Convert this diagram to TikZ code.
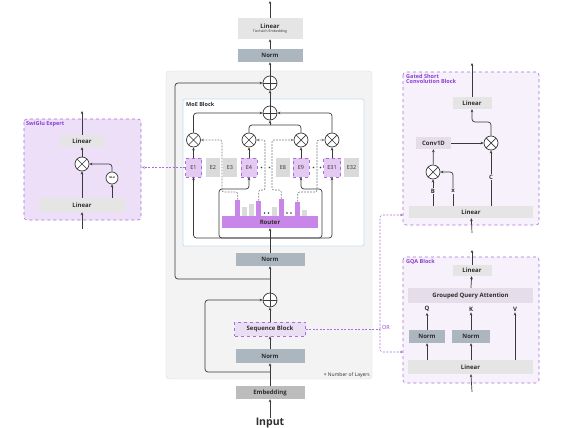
\documentclass[tikz,border=0pt]{standalone}
\usepackage{fontspec}
\setmainfont{Open Sans}
\usetikzlibrary{arrows.meta,positioning,calc}
\definecolor{lnc}{HTML}{3A3A3A}
\definecolor{txt}{HTML}{2E2E2E}
\definecolor{boxgray}{HTML}{E5E5E5}
\definecolor{normgray}{HTML}{ABB6BF}
\definecolor{embgray}{HTML}{BCBCBC}
\definecolor{panelfill}{HTML}{F3F3F3}
\definecolor{panelline}{HTML}{DADADA}
\definecolor{moeline}{HTML}{C5DDF2}
\definecolor{pline}{HTML}{A66FDB}
\definecolor{ptext}{HTML}{8A3FD1}
\definecolor{swfill}{HTML}{ECDFF7}
\definecolor{blkfill}{HTML}{F6F1FB}
\definecolor{convc}{HTML}{E5DDEA}
\definecolor{seqfill}{HTML}{E9DEF4}
\definecolor{expfill}{HTML}{E4C9F3}
\definecolor{expgray}{HTML}{DADADA}
\definecolor{routerc}{HTML}{C887E8}
\definecolor{routegray}{HTML}{7A7A7A}
\newcommand{\fsz}[1]{\fontsize{#1}{#1}\selectfont}

\begin{document}
\begin{tikzpicture}[x=1pt,y=-1pt,
  box/.style={rectangle,inner sep=0pt,font=\fsz{6}\bfseries,text=txt},
  lin/.style={box,fill=boxgray},
  nrm/.style={box,fill=normgray},
  wide/.style={minimum width=69pt,minimum height=13pt},
  expp/.style={box,font=\fsz{5.5},fill=expfill,draw=pline,dashed,minimum width=16pt,minimum height=19pt},
  expg/.style={box,font=\fsz{5.5},fill=expgray,minimum width=14pt,minimum height=19pt},
  bar/.style={rectangle,inner sep=0pt,minimum width=5pt},
  op/.style={circle,draw=lnc,line width=0.7pt,fill=white,minimum size=14pt,inner sep=0pt},
  add/.style={op,path picture={\draw[lnc,line width=0.7pt] (path picture bounding box.north) -- (path picture bounding box.south) (path picture bounding box.west) -- (path picture bounding box.east);}},
  mul/.style={op,path picture={\draw[lnc,line width=0.7pt] (path picture bounding box.south west) -- (path picture bounding box.north east) (path picture bounding box.north west) -- (path picture bounding box.south east);}},
  tag/.style={inner sep=1pt,font=\fsz{6}\bfseries,text=txt},
  plbl/.style={inner sep=0pt,font=\fsz{5.5}\bfseries,text=ptext},
  pbox/.style={draw=pline,dashed,line width=0.6pt,rounded corners=3pt},
  ln/.style={line width=0.7pt,draw=lnc},
  arr/.style={-{Stealth[length=3pt,width=2.6pt]},line width=0.7pt,draw=lnc},
  route/.style={-{Stealth[length=3pt,width=2.6pt]},line width=0.6pt,draw=routegray,dash pattern=on 1.8pt off 1.2pt,rounded corners=2pt},
  pdash/.style={line width=0.6pt,draw=pline,dash pattern=on 2pt off 1.5pt},
  pdasharr/.style={pdash,-{Stealth[length=3pt,width=2.6pt]},rounded corners=3pt}
]
\useasboundingbox (0,0) rectangle (570,428);

\draw[draw=panelline,fill=panelfill,rounded corners=3pt] (166,71) rectangle (372,379);
\draw[draw=moeline,fill=white,line width=0.7pt,rounded corners=2pt] (183,99) rectangle (364,246);
\node[inner sep=0pt,anchor=west,font=\fsz{5.5}\bfseries,text=txt] (moelbl) at (186,104) {MoE Block};
\draw[pbox,fill=swfill] (24,119) rectangle (141,220);
\node[plbl,anchor=west] (swlbl) at (26,124) {SwiGlu Expert};
\draw[pbox,fill=blkfill] (403,72) rectangle (539,225);
\node[plbl,anchor=north west,align=left] (gsclbl) at (406,74) {Gated Short\\Convolution Block};
\draw[pbox,fill=blkfill] (403,257) rectangle (539,383);
\node[plbl,anchor=west] (gqalbl) at (406,262) {GQA Block};

\node[lin,minimum width=65pt,minimum height=21pt,align=center] (head) at (270,28.5) {Linear\\[-1.5pt]{\fsz{3.5}\mdseries Tied with Embedding}};
\node[nrm,minimum width=65pt,minimum height=13pt] (normf) at (270,55.5) {Norm};
\node[add] (add2) at (270,83) {};
\node[add] (addm) at (270,113) {};
\foreach \n/\x in {1/193.5,2/249,3/301,4/332}
  \node[mul] (mul\n) at (\x,140) {};

\node[expp] (e1) at (193.5,167.5) {E1};
\node[expg] (e2) at (213,167.5) {E2};
\node[expg] (e3) at (230,167.5) {E3};
\node[expp] (e4) at (249,167.5) {E4};
\node[expg] (e8) at (283,167.5) {E8};
\node[expp] (e9) at (301,167.5) {E9};
\node[expp,minimum width=17pt] (e31) at (332,167.5) {E31};
\node[expg,minimum width=15pt] (e32) at (351.5,167.5) {E32};
\foreach \x in {261.5,269.5,313.5,320.5}
  \fill[lnc] (\x,167.5) circle (0.9pt);

\node[box,fill=routerc,minimum width=96pt,minimum height=12pt] (router) at (270,222) {Router};
\foreach \i/\a/\t/\c in {1/235/200/routerc,2/242/207/expgray,3/248.5/204/expgray,4/256/201/routerc,5/272/207/expgray,6/278.5/199/routerc,7/295/202/routerc,8/302/210/expgray}
  \node[bar,fill=\c,minimum height={(216-\t)*1pt},anchor=south west] (b\i) at (\a,216) {};
\foreach \x in {264.5,268.5,287,291}
  \fill[lnc] (\x,213) circle (0.9pt);

\node[nrm,wide] (norm2) at (270,259.5) {Norm};
\node[add] (addsb) at (270,300) {};
\node[box,fill=seqfill,draw=pline,dashed,line width=0.6pt,minimum width=71pt,minimum height=14pt] (seq) at (270,329) {Sequence Block};
\node[nrm,wide,minimum height=14pt] (norm1) at (270,356) {Norm};
\node[box,fill=embgray,wide] (embed) at (270,392.5) {Embedding};
\node[inner sep=0pt,font=\fsz{10.5}\bfseries,text=txt] (input) at (270,423) {Input};
\node[inner sep=0pt,anchor=east,font=\fsz{5},text=txt] (nlayers) at (370,375) {× Number of Layers};

\coordinate (out) at (270,1);
\coordinate (rsplit) at (270,238);
\coordinate (mjoin) at (270,125);
\coordinate (res1) at (270,279);
\coordinate (res2) at (270,372);

\draw[arr] (input) -- (embed);
\draw[arr] (embed) -- (norm1);
\draw[arr] (norm1) -- (seq);
\draw[arr] (seq) -- (addsb);
\draw[arr] (addsb) -- (norm2);
\draw[arr] (norm2) -- (router);
\draw[arr,rounded corners=3pt] (res2) -| (205,300) -- (addsb);
\draw[arr,rounded corners=3pt] (res1) -| (175,83) -- (add2);

\draw[arr,rounded corners=3pt] (rsplit) -| (e1);
\draw[arr,rounded corners=3pt] (rsplit) -| (e31);
\draw[arr,rounded corners=3pt] (rsplit) -| (219,189) -| (e4);
\draw[arr,rounded corners=3pt] (rsplit) -| (322,189) -| (e9);

\draw[route] (b1.north) |- (222,192) -- (222,140) -- (mul1);
\draw[route] (b4.north) |- (265,190) -- (265,140) -- (mul2);
\draw[route] (b6.north) |- (272,190) -- (272,140) -- (mul3);
\draw[route] (b7.north) |- (317,192) -- (317,140) -- (mul4);

\foreach \e/\m in {e1/mul1,e4/mul2,e9/mul3,e31/mul4}
  \draw[arr] (\e) -- (\m);
\draw[arr,rounded corners=3pt] (mul1) |- (addm);
\draw[arr,rounded corners=3pt] (mul4) |- (addm);
\draw[ln,rounded corners=3pt] (mul2) |- (mjoin);
\draw[ln,rounded corners=3pt] (mul3) |- (mjoin);
\draw[arr] (mjoin) -- (addm);
\draw[arr] (addm) -- (add2);
\draw[arr] (add2) -- (normf);
\draw[arr] (normf) -- (head);
\draw[arr] (head) -- (out);

\node[lin,minimum width=45pt,minimum height=12pt] (swout) at (82,141) {Linear};
\node[mul] (swmul) at (82,164) {};
\node[op,minimum size=12pt,font=\fsz{2.5}\bfseries] (silu) at (112,178) {SiLU};
\node[lin,minimum width=86pt,minimum height=14pt] (swin) at (82,205) {Linear};
\coordinate (swsrc) at (82,229);
\coordinate (swdst) at (82,111);
\coordinate (swedge) at (142,167.5);
\draw[arr] (swsrc) -- (swin);
\draw[arr] (swin) -- (swmul);
\draw[arr] (swin.north -| silu) -- (silu);
\draw[arr,rounded corners=3pt] (silu) |- (swmul);
\draw[arr] (swmul) -- (swout);
\draw[arr] (swout) -- (swdst);
\draw[pdasharr] (e1) -- (swedge);

\node[lin,minimum width=39pt,minimum height=12pt] (gout) at (472,103) {Linear};
\node[box,fill=convc,minimum width=35pt,minimum height=12pt] (conv) at (433.5,143) {Conv1D};
\node[mul] (gmul2) at (491,143) {};
\node[mul] (gmul1) at (433,172) {};
\node[lin,minimum width=124pt,minimum height=12pt] (gin) at (471,212) {Linear};
\node[tag] (tb) at (433,191) {B};
\node[tag] (tx) at (453,191) {x};
\node[tag] (tc) at (491,177) {C};
\coordinate (gsrc) at (472,233);
\coordinate (gdst) at (472,63);
\draw[arr] (gsrc) -- (gin);
\draw[ln] (gin.north -| tb) -- (tb);
\draw[ln] (gin.north -| tx) -- (tx);
\draw[ln] (gin.north -| tc) -- (tc);
\draw[arr] (tb) -- (gmul1);
\draw[arr,rounded corners=3pt] (tx) |- (gmul1);
\draw[arr] (tc) -- (gmul2);
\draw[arr] (gmul1) -- (conv);
\draw[arr] (conv) -- (gmul2);
\draw[arr,rounded corners=3pt] (gmul2) |- (472,122) -- (gout);
\draw[arr] (gout) -- (gdst);

\node[lin,minimum width=39pt,minimum height=11pt] (qout) at (472,270.5) {Linear};
\node[box,fill=convc,minimum width=125pt,minimum height=15pt] (gqa) at (470.5,295.5) {Grouped Query Attention};
\node[tag] (tq) at (427,309) {Q};
\node[tag] (tk) at (471,309) {K};
\node[tag] (tv) at (515,309) {V};
\node[nrm,minimum width=36pt,minimum height=13pt] (qn) at (427,336.5) {Norm};
\node[nrm,minimum width=38pt,minimum height=13pt] (kn) at (471,336.5) {Norm};
\node[lin,minimum width=125pt,minimum height=14pt] (qin) at (470.5,367) {Linear};
\coordinate (qsrc) at (472,392);
\coordinate (qdst) at (472,250);
\draw[arr] (qsrc) -- (qin);
\draw[arr] (qin.north -| qn) -- (qn);
\draw[arr] (qin.north -| kn) -- (kn);
\draw[arr] (qin.north -| tv) -- (tv);
\draw[arr] (qn) -- (tq);
\draw[arr] (kn) -- (tk);
\draw[arr] (gqa) -- (qout);
\draw[arr] (qout) -- (qdst);

\coordinate (orj) at (380,329);
\coordinate (gleft) at (403,215);
\coordinate (qleft) at (403,352);
\draw[pdash] (seq) -- (orj);
\draw[pdasharr] (orj) |- (gleft);
\draw[pdasharr] (orj) |- (qleft);
\node[inner sep=0pt,anchor=west,font=\fsz{5.5},text=ptext] (orlbl) at (382,328) {OR};
\end{tikzpicture}
\end{document}
